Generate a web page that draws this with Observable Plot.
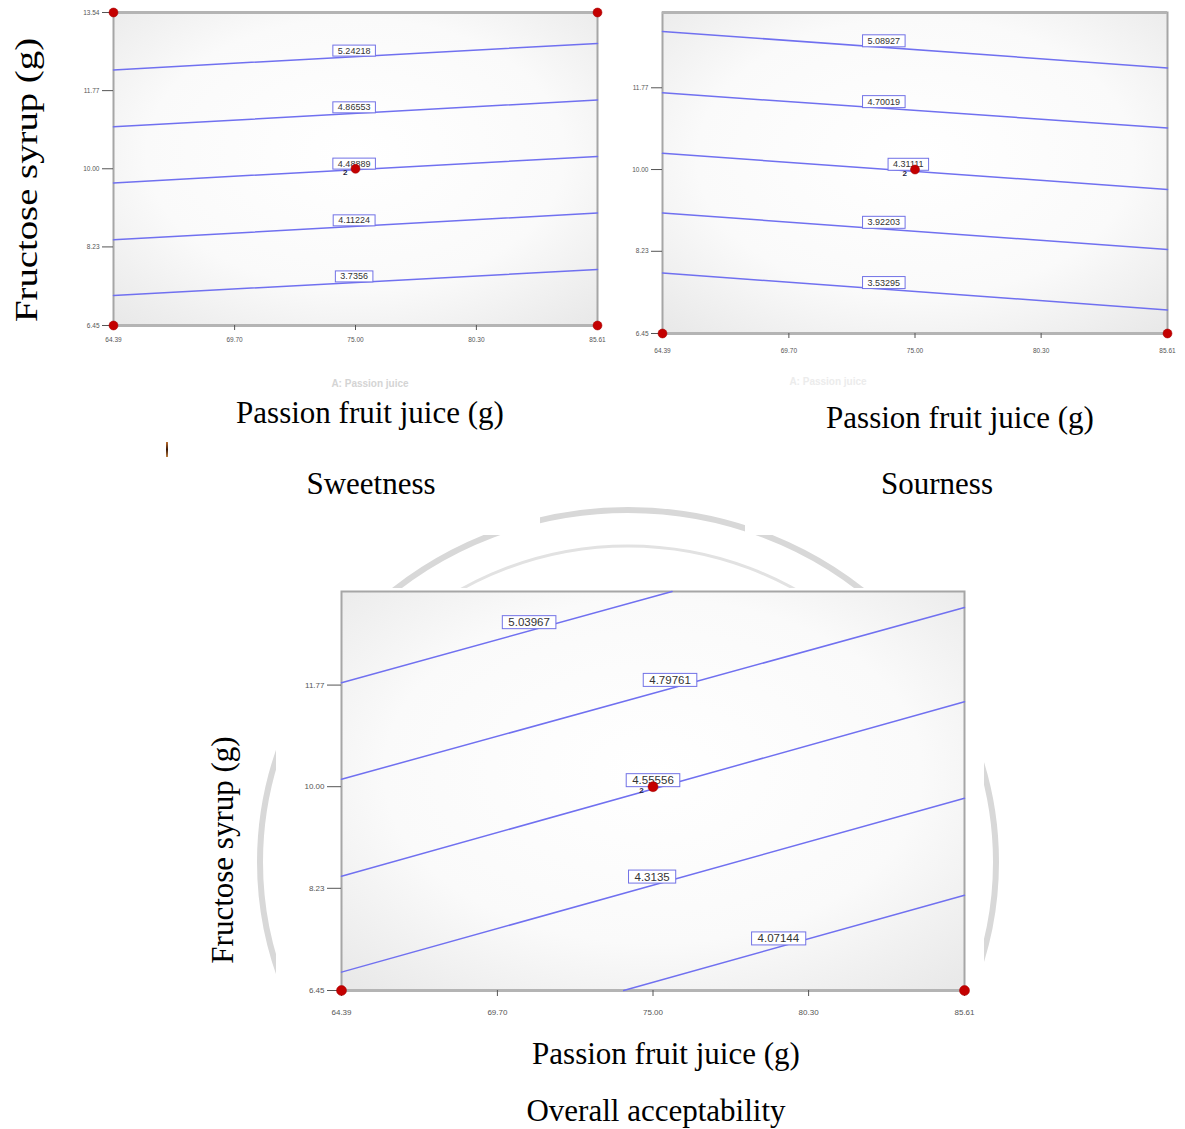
<!DOCTYPE html>
<html>
<head>
<meta charset="utf-8">
<script src="https://cdn.jsdelivr.net/npm/d3@7"></script>
<script src="https://cdn.jsdelivr.net/npm/@observablehq/plot@0.6"></script>
<style>
html, body { margin: 0; padding: 0; background: #fff; }
#root { position: relative; width: 1185px; height: 1129px; overflow: hidden; background: #fff; }
.t { position: absolute; font-family: "Liberation Serif", "Times New Roman", serif; font-size: 31px; line-height: 1; white-space: nowrap; color: #000; transform: translate(-50%, -50%); }
.faint { position: absolute; font-family: "Liberation Sans", Arial, sans-serif; font-size: 10px; font-weight: bold; white-space: nowrap; transform: translate(-50%, -50%); }
.p { position: absolute; }
</style>
</head>
<body>
<div id="root"></div>
<script>
// ---------- data ----------
const X_TICKS = [64.39, 69.70, 75.00, 80.30, 85.61];
const Y_TICKS = [6.45, 8.23, 10.00, 11.77, 13.54];
const X_DOMAIN = [64.39, 85.61];

// design points (corners + centre, centre has 2 replicates)
const designX = [64.39, 85.61, 64.39, 85.61, 75.00];
const designY = [6.45, 6.45, 13.54, 13.54, 10.00];
const designN = [1, 1, 1, 1, 2];

// Sweetness contours
const sweetLevels = ["5.24218", "4.86553", "4.48889", "4.11224", "3.7356"];
const sweetStartY = [12.24, 10.95, 9.68, 8.39, 7.13];
const sweetEndY   = [12.84, 11.56, 10.28, 9.00, 7.72];
const sweetLabelX = [74.94, 74.94, 74.94, 74.94, 74.94];

// Sourness contours
const sourLevels = ["5.08927", "4.70019", "4.31111", "3.92203", "3.53295"];
const sourStartY = [12.99, 11.66, 10.35, 9.06, 7.76];
const sourEndY   = [12.20, 10.90, 9.57, 8.27, 6.96];
const sourLabelX = [73.69, 73.69, 74.72, 73.69, 73.69];

// Overall acceptability contours
const overallLevels = ["5.03967", "4.79761", "4.55556", "4.3135", "4.07144"];
const overallStartX = [64.39, 64.39, 64.39, 64.39, 74.00];
const overallStartY = [11.81, 10.13, 8.44, 6.77, 6.45];
const overallEndX   = [75.65, 85.61, 85.61, 85.61, 85.61];
const overallEndY   = [13.40, 13.12, 11.48, 9.80, 8.11];
const overallLabelX = [70.78, 75.58, 75.00, 74.97, 79.27];

const full = (v) => v.map(() => null);

// ---------- page ----------
const root = document.getElementById("root");
const NS = "http://www.w3.org/2000/svg";

// faint watermark ring (decoration)
(function watermark() {
  const wm = d3.select(root).append("svg")
    .attr("width", 1185).attr("height", 1129)
    .style("position", "absolute").style("left", "0px").style("top", "0px");
  const cp = wm.append("defs").append("clipPath").attr("id", "wmclip");
  cp.append("rect").attr("x", 0).attr("y", 535).attr("width", 1185).attr("height", 475);
  cp.append("rect").attr("x", 540).attr("y", 480).attr("width", 205).attr("height", 60);
  const g = wm.append("g").attr("clip-path", "url(#wmclip)");
  g.append("ellipse").attr("cx", 628).attr("cy", 862).attr("rx", 368).attr("ry", 352)
    .attr("fill", "none").attr("stroke", "#d8d8d8").attr("stroke-width", 6);
  g.append("ellipse").attr("cx", 628).attr("cy", 862).attr("rx", 330).attr("ry", 316)
    .attr("fill", "none").attr("stroke", "#e2e2e2").attr("stroke-width", 3);
})();

let gid = 0;
function makePanel(cfg) {
  const lines = cfg.levels.map((lv, i) => ({
    lv, x0: cfg.x0[i] ?? X_DOMAIN[0], y0: cfg.y0[i],
    x1: cfg.x1[i] ?? X_DOMAIN[1], y1: cfg.y1[i], lx: cfg.lx[i]
  }));
  const pts = lines.flatMap(d => [{lv: d.lv, x: d.x0, y: d.y0}, {lv: d.lv, x: d.x1, y: d.y1}]);
  const labels = lines.map(d => ({lv: d.lv, x: d.lx, y: d.y0 + (d.y1 - d.y0) * (d.lx - d.x0) / (d.x1 - d.x0)}));
  const [ymin, ymax] = cfg.yDomain;
  const yt = Y_TICKS.filter(v => v >= ymin - 1e-9 && v <= ymax + 1e-9);
  const design = designX.map((x, i) => ({x, y: designY[i], n: designN[i]}))
    .filter(d => d.y <= ymax + 1e-9);
  const svg = Plot.plot({
    width: cfg.w, height: cfg.h,
    marginLeft: cfg.ml, marginRight: cfg.mr, marginTop: cfg.mt, marginBottom: cfg.mb,
    x: {domain: X_DOMAIN},
    y: {domain: cfg.yDomain},
    style: {fontFamily: '"Liberation Sans", Arial, sans-serif', background: cfg.bg, overflow: "visible"},
    marks: [
      Plot.frame({fill: "#f5f5f5", stroke: "#a6a6a6", strokeWidth: 2}),
      Plot.ruleY([ymin], {stroke: "#b4b4b4", strokeWidth: 3}),
      cfg.topRule ? Plot.ruleY([ymax], {stroke: "#b4b4b4", strokeWidth: 3}) : null,
      Plot.axisX({ticks: X_TICKS, tickFormat: d => d.toFixed(2), tickSize: cfg.xts, tickPadding: cfg.xtp,
        fontSize: cfg.tfs, color: "#555", label: null}),
      Plot.axisY({ticks: yt, tickFormat: d => d.toFixed(2), tickSize: cfg.yts, tickPadding: cfg.ytp,
        fontSize: cfg.tfs, color: "#555", label: null}),
      Plot.line(pts, {x: "x", y: "y", z: "lv", stroke: "#7070f0", strokeWidth: 1.5}),
      Plot.text(labels, {x: "x", y: "y", text: "lv", dy: -cfg.ldy, fontSize: cfg.lfs, fill: "#333"}),
      Plot.dot(design, {x: "x", y: "y", r: cfg.dr, fill: "#c40000", stroke: "#a00000", strokeWidth: 0.5}),
      Plot.text(design.filter(d => d.n > 1), {x: "x", y: "y", text: d => String(d.n),
        dx: -cfg.dr * 2.3, dy: 4, fontSize: 8, fontWeight: "bold", fill: "#1d1d40"})
    ]
  });
  // radial background inside the frame
  const id = "bg" + (gid++);
  const defs = document.createElementNS(NS, "defs");
  defs.innerHTML = `<radialGradient id="${id}" cx="50%" cy="45%" r="72%">
    <stop offset="0" stop-color="#ffffff"/><stop offset="0.6" stop-color="#fafafa"/>
    <stop offset="1" stop-color="#e9e9e9"/></radialGradient>`;
  svg.insertBefore(defs, svg.firstChild);
  svg.querySelectorAll('[aria-label="frame"]').forEach(el => {
    const rs = el.tagName.toLowerCase() === "rect" ? [el] : Array.from(el.querySelectorAll("rect"));
    rs.forEach(r => r.setAttribute("fill", `url(#${id})`));
  });
  svg.classList.add("p");
  svg.style.left = cfg.left + "px";
  svg.style.top = cfg.top + "px";
  root.appendChild(svg);
  // boxes behind contour labels
  const levelSet = new Set(cfg.levels);
  svg.querySelectorAll("text").forEach(t => {
    if (!levelSet.has(t.textContent)) return;
    const b = t.getBBox();
    const r = document.createElementNS(NS, "rect");
    r.setAttribute("x", b.x - cfg.bpx);
    r.setAttribute("y", b.y - cfg.bpy);
    r.setAttribute("width", b.width + 2 * cfg.bpx);
    r.setAttribute("height", b.height + 2 * cfg.bpy);
    r.setAttribute("fill", "#ffffff");
    r.setAttribute("stroke", "#7272e6");
    r.setAttribute("stroke-width", 1);
    const tr = t.getAttribute("transform");
    if (tr) r.setAttribute("transform", tr);
    t.parentNode.insertBefore(r, t);
  });
}

// Sweetness
makePanel({
  levels: sweetLevels, x0: full(sweetLevels), y0: sweetStartY, x1: full(sweetLevels), y1: sweetEndY, lx: sweetLabelX,
  yDomain: [6.45, 13.54], topRule: true,
  left: 60, top: 0, w: 560, h: 360, ml: 53, mr: 23, mt: 12, mb: 35, bg: "transparent",
  xts: 5, xtp: 7, yts: 11, ytp: 3, tfs: 6.5, lfs: 9, ldy: 6, bpx: 5, bpy: 0.5, dr: 4.5
});

// Sourness
makePanel({
  levels: sourLevels, x0: full(sourLevels), y0: sourStartY, x1: full(sourLevels), y1: sourEndY, lx: sourLabelX,
  yDomain: [6.45, 13.4], topRule: true,
  left: 610, top: 0, w: 575, h: 365, ml: 52, mr: 18, mt: 12, mb: 32, bg: "transparent",
  xts: 5, xtp: 10, yts: 11, ytp: 3, tfs: 6.5, lfs: 9, ldy: 6.5, bpx: 5, bpy: 1, dr: 4.5
});

// Overall acceptability
makePanel({
  levels: overallLevels, x0: overallStartX, y0: overallStartY, x1: overallEndX, y1: overallEndY, lx: overallLabelX,
  yDomain: [6.45, 13.4], topRule: false,
  left: 276, top: 588, w: 708, h: 452, ml: 65, mr: 20, mt: 3, mb: 50, bg: "#ffffff",
  xts: 6, xtp: 13, yts: 14, ytp: 3, tfs: 8, lfs: 11.5, ldy: 8.5, bpx: 6, bpy: 0.5, dr: 5
});

// ---------- text ----------
function txt(s, x, y, extra) {
  const d = document.createElement("div");
  d.className = "t";
  d.textContent = s;
  d.style.left = x + "px";
  d.style.top = y + "px";
  if (extra) d.style.transform = extra;
  root.appendChild(d);
}
function faint(s, x, y, c) {
  const d = document.createElement("div");
  d.className = "faint";
  d.textContent = s;
  d.style.left = x + "px";
  d.style.top = y + "px";
  d.style.color = c;
  root.appendChild(d);
}
faint("A: Passion juice", 370, 383, "#d4d4d4");
faint("A: Passion juice", 828, 381, "#ececec");

txt("Fructose syrup (g)", 26, 180, "translate(-50%, -50%) rotate(-90deg) scaleX(1.25)");
txt("Passion fruit juice (g)", 370, 412);
txt("Passion fruit juice (g)", 960, 417);
txt("Sweetness", 371, 483);
txt("Sourness", 937, 483);
txt("Fructose syrup (g)", 222, 850, "translate(-50%, -50%) rotate(-90deg)");
txt("Passion fruit juice (g)", 666, 1053);
txt("Overall acceptability", 656, 1110);

// small stray mark
const m = document.createElement("div");
m.style.cssText = "position:absolute;left:166px;top:442px;width:2px;height:15px;background:linear-gradient(#c07030,#3a1808,#c08040);";
root.appendChild(m);
</script>
</body>
</html>
